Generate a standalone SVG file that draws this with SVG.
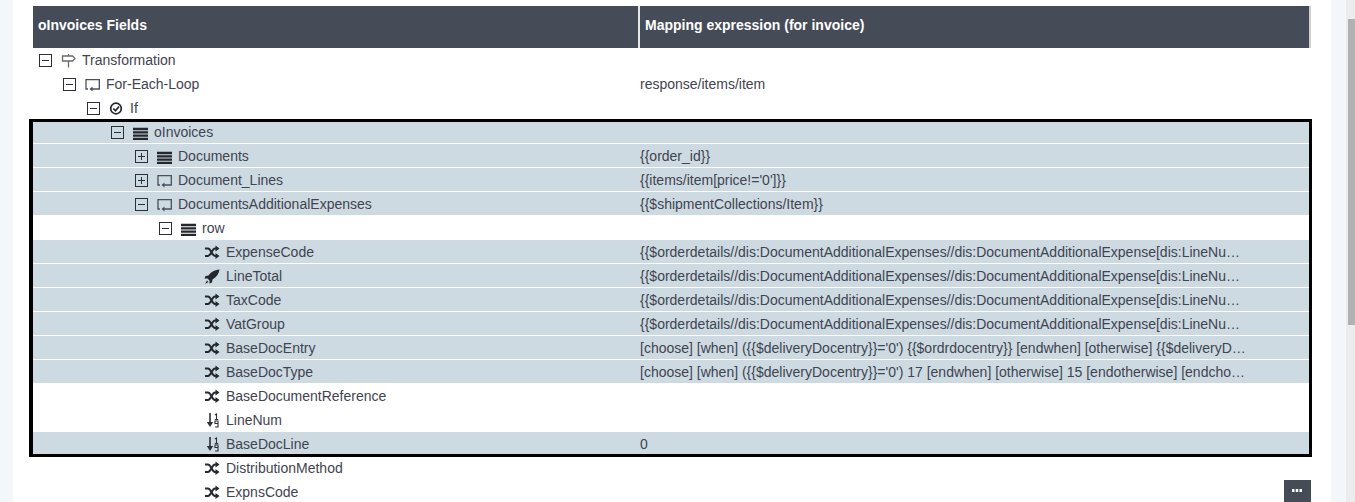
<svg xmlns="http://www.w3.org/2000/svg" width="1355" height="502" viewBox="0 0 1355 502">
<style>
text{font-family:"Liberation Sans",Arial,sans-serif;font-size:14px;fill:#3f4450}
.h{font-weight:bold;fill:#fff}
.r{fill:#cddae1}
.tb{fill:none;stroke:#2b2f36;stroke-width:1}
.ln{stroke:#2b2f36;stroke-width:1;fill:none}
.ic{stroke:#4a4f59;stroke-width:1.300;fill:none}
</style>
<defs>
<g id="minus"><rect class="tb" x="0.500" y="0.500" width="12" height="12"/><path class="ln" d="M3 6.500H10"/></g>
<g id="plus"><rect class="tb" x="0.500" y="0.500" width="12" height="12"/><path class="ln" d="M3 6.500H10M6.500 3V10"/></g>
<g id="stack"><path d="M0 1H15M0 4.300H15M0 7.600H15M0 10.900H15" stroke="#24272d" stroke-width="2.300" fill="none"/></g>
<g id="loop"><path class="ic" d="M3 10H1V0.700H14.300V10H7"/><path d="M4.500 10L7.500 7.500V12.500Z" fill="#4a4f59"/></g>
<g id="shuffle"><path d="M0 2.500H3C6 2.500 7 10 10 10H12M0 10H3C6 10 7 2.500 10 2.500H12" stroke="#24272d" stroke-width="2" fill="none"/><path d="M10.500 -0.500L14.500 2.500L10.500 5.500ZM10.500 7L14.500 10L10.500 13Z" fill="#24272d"/></g>
<g id="sort"><path d="M3 0V11" stroke="#2b2f36" stroke-width="1.600"/><path d="M-0.200 9H6.200L3 14Z" fill="#2b2f36"/><path d="M7.800 2L9.500 1V6.500M7.800 6.500H11.200" stroke="#2b2f36" stroke-width="1.100" fill="none"/><path d="M11 10.500H8V8H11V14H8" stroke="#2b2f36" stroke-width="1.100" fill="none"/></g>
</defs>

<g id="page">
<rect width="1355" height="502" fill="#fff"/>
<rect x="0" y="0" width="13" height="502" fill="#f4f7f9"/>
<rect x="1331" y="0" width="15" height="502" fill="#f4f7f9"/>
<rect x="1346" y="0" width="9" height="502" fill="#ececec"/>
<rect x="1348" y="19" width="7" height="306" fill="#b1b1b1"/>
</g>

<g id="header">
<rect x="33" y="6" width="1278" height="42" fill="#d0d0d0"/>
<rect x="33" y="6" width="1276" height="42" fill="#454b57"/>
<rect x="638" y="6" width="2" height="42" fill="#e8e8e8"/>
<text class="h" x="38" y="30">oInvoices Fields</text>
<text class="h" x="645" y="30">Mapping expression (for invoice)</text>
</g>

<g id="highlights">
<rect class="r" x="33" y="122" width="1276" height="21"/>
<rect class="r" x="33" y="144" width="1276" height="23"/>
<rect class="r" x="33" y="168" width="1276" height="23"/>
<rect class="r" x="33" y="192" width="1276" height="23"/>
<rect class="r" x="33" y="240" width="1276" height="23"/>
<rect class="r" x="33" y="264" width="1276" height="23"/>
<rect class="r" x="33" y="288" width="1276" height="23"/>
<rect class="r" x="33" y="312" width="1276" height="23"/>
<rect class="r" x="33" y="336" width="1276" height="23"/>
<rect class="r" x="33" y="360" width="1276" height="23"/>
<rect class="r" x="33" y="432" width="1276" height="22"/>
</g>

<g id="transformation"><use href="#minus" x="39" y="54"/><path d="M68.500 54V56M68.500 61V67.500M62.500 56H72.500L75 58.500L72.500 61H62.500Z" stroke="#6b6a68" stroke-width="1.300" fill="none"/><text x="82" y="65">Transformation</text></g>
<g id="for-each-loop"><use href="#minus" x="63" y="78"/><use href="#loop" x="85" y="79"/><text x="106" y="89">For-Each-Loop</text><text x="640" y="89">response/items/item</text></g>
<g id="if"><use href="#minus" x="87" y="102"/><circle cx="116" cy="108.500" r="5.300" fill="none" stroke="#24272d" stroke-width="1.700"/><path d="M113.300 108.500L115.500 110.700L119 106.500" stroke="#24272d" stroke-width="1.700" fill="none"/><text x="130" y="113">If</text></g>
<g id="oinvoices"><use href="#minus" x="111" y="126"/><use href="#stack" x="133" y="128"/><text x="154" y="137">oInvoices</text></g>
<g id="documents"><use href="#plus" x="135" y="150"/><use href="#stack" x="157" y="152"/><text x="178" y="161">Documents</text><text x="640" y="161">{{order_id}}</text></g>
<g id="document-lines"><use href="#plus" x="135" y="174"/><use href="#loop" x="157" y="175"/><text x="178" y="185">Document_Lines</text><text x="640" y="185">{{items/item[price!='0']}}</text></g>
<g id="documents-additional"><use href="#minus" x="135" y="198"/><use href="#loop" x="157" y="199"/><text x="178" y="209">DocumentsAdditionalExpenses</text><text x="640" y="209">{{$shipmentCollections/Item}}</text></g>
<g id="row"><use href="#minus" x="159" y="222"/><use href="#stack" x="181" y="224"/><text x="202" y="233">row</text></g>
<g id="expensecode"><use href="#shuffle" x="205" y="246"/><text x="226" y="257">ExpenseCode</text><text x="640" y="257">{{$orderdetails//dis:DocumentAdditionalExpenses//dis:DocumentAdditionalExpense[dis:LineNu…</text></g>
<g id="linetotal"><path d="M219.500 269.500C214 270 211 272 208.500 275.500L205.500 276L204.500 278.500L207.500 278.500L209.500 280.500L209.500 283.500L212 282.500L212.500 279.500C216.500 277 219 274 219.500 269.500ZM207 280.500L205 284L208.500 282Z" fill="#24272d"/><text x="226" y="281">LineTotal</text><text x="640" y="281">{{$orderdetails//dis:DocumentAdditionalExpenses//dis:DocumentAdditionalExpense[dis:LineNu…</text></g>
<g id="taxcode"><use href="#shuffle" x="205" y="294"/><text x="226" y="305">TaxCode</text><text x="640" y="305">{{$orderdetails//dis:DocumentAdditionalExpenses//dis:DocumentAdditionalExpense[dis:LineNu…</text></g>
<g id="vatgroup"><use href="#shuffle" x="205" y="318"/><text x="226" y="329">VatGroup</text><text x="640" y="329">{{$orderdetails//dis:DocumentAdditionalExpenses//dis:DocumentAdditionalExpense[dis:LineNu…</text></g>
<g id="basedocentry"><use href="#shuffle" x="205" y="342"/><text x="226" y="353">BaseDocEntry</text><text x="640" y="353">[choose] [when] ({{$deliveryDocentry}}='0') {{$ordrdocentry}} [endwhen] [otherwise] {{$deliveryD…</text></g>
<g id="basedoctype"><use href="#shuffle" x="205" y="366"/><text x="226" y="377">BaseDocType</text><text x="640" y="377">[choose] [when] ({{$deliveryDocentry}}='0') 17 [endwhen] [otherwise] 15 [endotherwise] [endcho…</text></g>
<g id="basedocumentreference"><use href="#shuffle" x="205" y="390"/><text x="226" y="401">BaseDocumentReference</text></g>
<g id="linenum"><use href="#sort" x="207" y="413"/><text x="226" y="425">LineNum</text></g>
<g id="basedocline"><use href="#sort" x="207" y="437"/><text x="226" y="449">BaseDocLine</text><text x="640" y="449">0</text></g>
<g id="distributionmethod"><use href="#shuffle" x="205" y="462"/><text x="226" y="473">DistributionMethod</text></g>
<g id="expnscode"><use href="#shuffle" x="205" y="486"/><text x="226" y="497">ExpnsCode</text></g>

<g id="selection"><path fill="#000" fill-rule="evenodd" d="M29 119H1312V457H29ZM33 122V454H1309V122Z"/></g>
<g id="more-button"><rect x="1284" y="480" width="27" height="22" fill="#454b57"/><path d="M1292 490.500H1302" stroke="#fff" stroke-width="3" stroke-dasharray="2.500 1.250"/></g>
<g id="connectors"/>
</svg>
